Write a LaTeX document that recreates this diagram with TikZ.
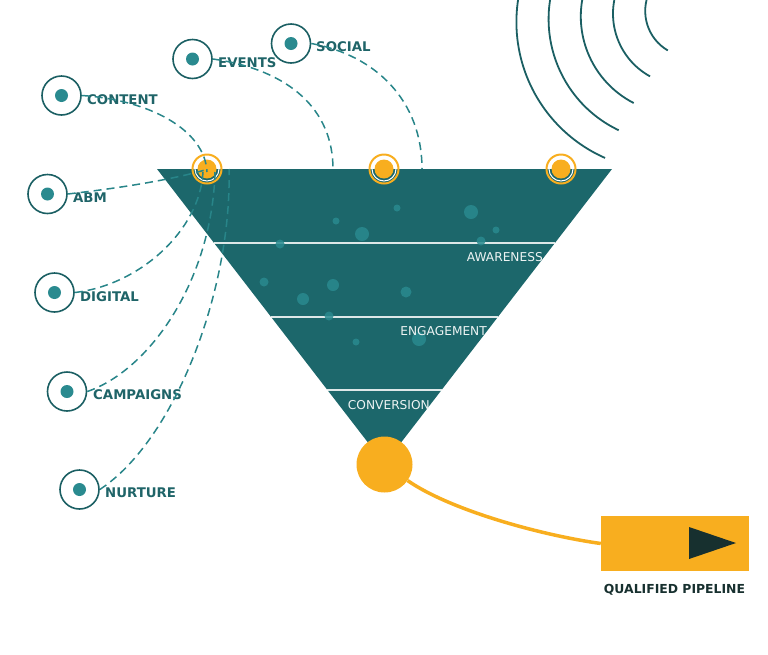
\documentclass[tikz,border=0pt]{standalone}
\usepackage{fontspec}
\setmainfont{DejaVu Sans}
\definecolor{funnelc}{HTML}{1C676B}
\definecolor{ringc}{HTML}{1B5F63}
\definecolor{dotc}{HTML}{2A8A8F}
\definecolor{dashc}{HTML}{288589}
\definecolor{labelc}{HTML}{1F6468}
\definecolor{orangec}{HTML}{F8AE1F}
\definecolor{darkc}{HTML}{17302F}
\tikzset{
  ring/.style={circle,draw=ringc,line width=1.6pt,minimum size=39pt,inner sep=0pt},
  innerdot/.style={fill=dotc},
  chlabel/.style={anchor=base west,inner sep=0pt,text=labelc,font=\fontsize{13.3}{15}\selectfont\bfseries},
  conn/.style={draw=dashc,line width=1.5pt,dash pattern=on 8pt off 5pt},
  oring/.style={circle,draw=orangec,line width=2pt,minimum size=29pt,inner sep=0pt},
  stagelabel/.style={anchor=base east,inner sep=0pt,text=white!92!funnelc,font=\fontsize{12.2}{14}\selectfont},
  spot/.style={fill=dotc,opacity=0.85},
  wave/.style={draw=ringc,line width=1.8pt},
}
\begin{document}
\begin{tikzpicture}[x=1pt,y=-1pt]
\useasboundingbox (0,0) rectangle (768,654);
% waves
\begin{scope}
\clip (0,0) rectangle (768,654);
\foreach \i in {0,...,4}{
  \pgfmathsetmacro{\cx}{665+6.5*\i}
  \pgfmathsetmacro{\cy}{22-2.75*\i}
  \pgfmathsetmacro{\rr}{148.6-25.7*\i}
  \pgfmathsetmacro{\sa}{113.8+1.67*\i}
  \draw[wave] (\cx,\cy) ++(\sa:\rr) arc[start angle=\sa,end angle=205,radius=\rr];
}
\end{scope}
% funnel
\fill[funnelc] (157,169) -- (612,169) -- (384.5,464) -- cycle;
\draw[white,opacity=0.85,line width=1.1pt] (214,243) -- (555,243);
\draw[white,opacity=0.85,line width=1.1pt] (271,317) -- (498,317);
\draw[white,opacity=0.85,line width=1.1pt] (327,390) -- (442,390);
% spots
\foreach \x/\y/\s in {397/208/3.5,471/212/7,336/221/3.5,362/234/7,496/230/3.5,481/241/4.5,280/244/4.5,264/282/4.5,333/285/6,303/299/6,406/292/5.5,329/316/4.5,356/342/3.5,419/339/7}{
  \fill[spot] (\x,\y) circle (\s);
}
\node[stagelabel] (aw) at (543,261) {AWARENESS};
\node[stagelabel] (en) at (487,335) {ENGAGEMENT};
\node[stagelabel] (co) at (430,409) {CONVERSION};
% top orange markers
\foreach \n/\x in {o1/207,o2/384,o3/561}{
  \node[oring] (\n) at (\x,169) {};
  \draw[white,line width=1pt] (\n.center) circle (12);
  \fill[orangec] (\n.center) circle (9.5);
}
% channel rings
\foreach \n/\x/\y in {content/61.5/95.5,events/192.5/59,social/291/43.5,abm/47.5/194,digital/54.5/292.5,campaigns/67/391.5,nurture/79.5/489.5}{
  \node[ring] (\n) at (\x,\y) {};
  \fill[innerdot] (\n.center) circle (6.5);
}
\node[chlabel] (lcontent) at (87,104.3) {CONTENT};
\node[chlabel] (levents) at (218,67) {EVENTS};
\node[chlabel] (lsocial) at (316,51) {SOCIAL};
\node[chlabel] (labm) at (73,202) {ABM};
\node[chlabel] (ldigital) at (80,301) {DIGITAL};
\node[chlabel] (lcampaigns) at (93,399) {CAMPAIGNS};
\node[chlabel] (lnurture) at (105,497) {NURTURE};
% connector targets
\coordinate (tcontent) at (207,172);
\coordinate (tabm) at (205,170);
\coordinate (tdigital) at (203,172);
\coordinate (tcampaigns) at (215,172);
\coordinate (tnurture) at (229,169);
\coordinate (tevents) at (333,169);
\coordinate (tsocial) at (422,169);
% connectors
\draw[conn] (content.east) .. controls (150,100) and (205,130) .. (tcontent);
\draw[conn] (events.east) .. controls (290,70) and (333,110) .. (tevents);
\draw[conn] (social.east) .. controls (375,55) and (422,100) .. (tsocial);
\draw[conn] (abm.east) .. controls (120,188) and (170,180) .. (tabm);
\draw[conn] (digital.east) .. controls (140,285) and (200,230) .. (tdigital);
\draw[conn] (campaigns.east) .. controls (150,370) and (212,280) .. (tcampaigns);
\draw[conn] (nurture.east) .. controls (175,440) and (232,290) .. (tnurture);
% output
\node[circle,fill=orangec,minimum size=56pt,inner sep=0pt] (conv) at (384.5,464.5) {};
\node[rectangle,fill=orangec,minimum width=148pt,minimum height=55pt,inner sep=0pt] (pipe) at (675,543.5) {};
\fill[darkc] (689,527) -- (689,559) -- (736,543) -- cycle;
\draw[orangec,line width=3.5pt] (conv) .. controls (450,510) and (540,535) .. (pipe.west);
\node[anchor=base,inner sep=0pt,text=darkc,font=\fontsize{12.4}{14}\selectfont\bfseries] (lpipe) at (674.5,593.5) {QUALIFIED PIPELINE};
\end{tikzpicture}
\end{document}
